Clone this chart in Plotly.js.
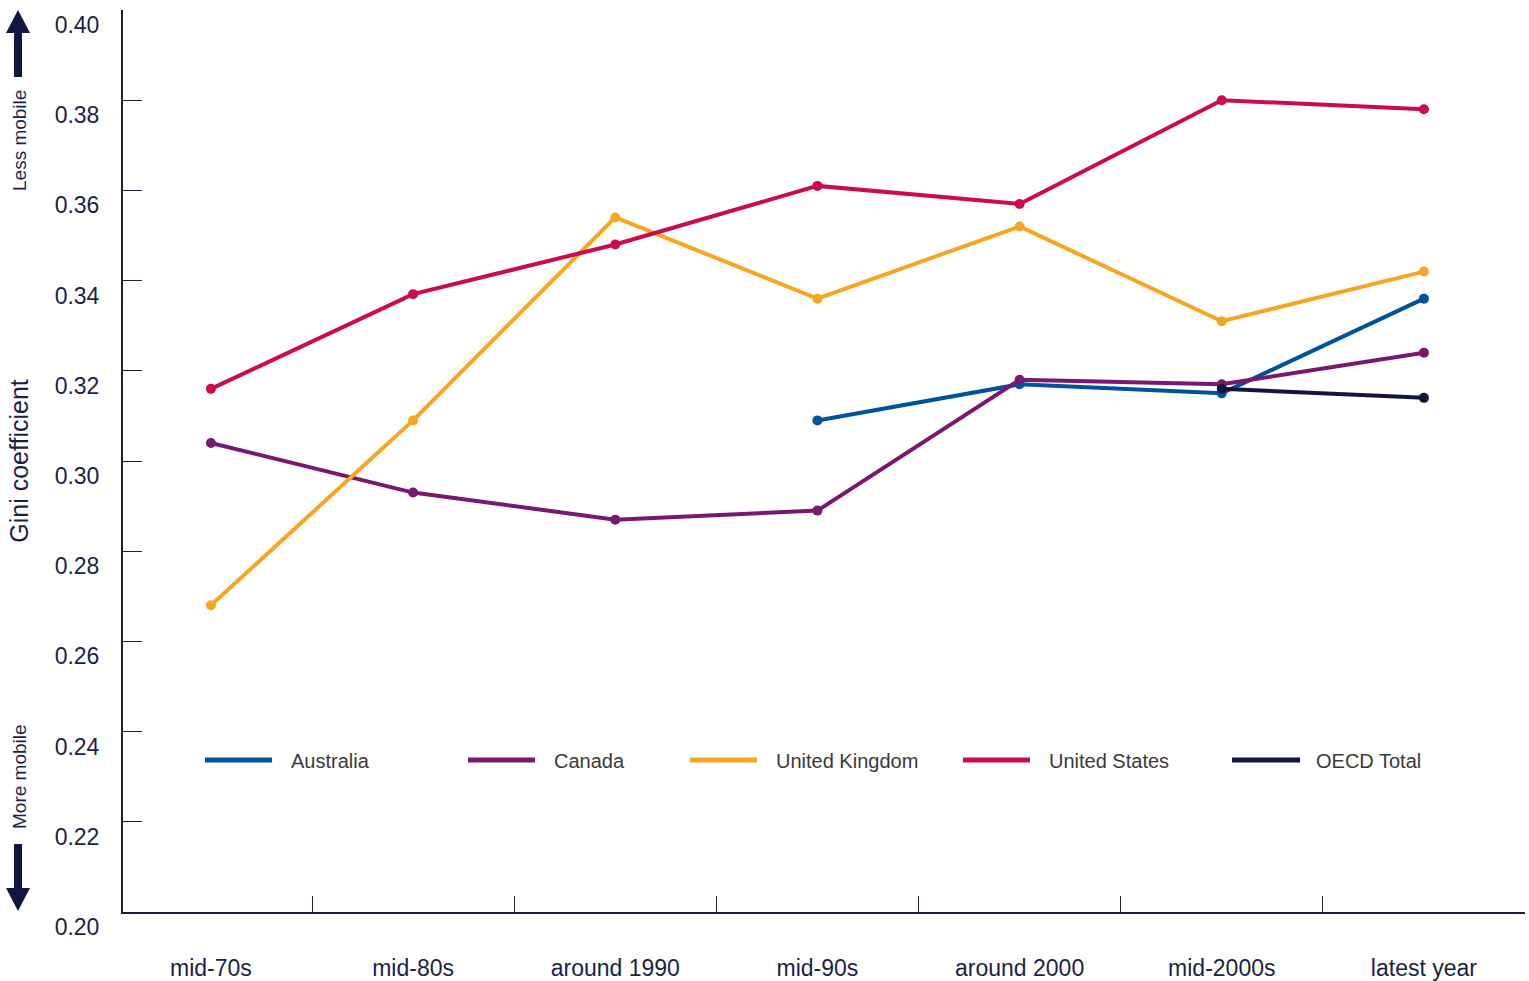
<!DOCTYPE html>
<html>
<head>
<meta charset="utf-8">
<script src="https://cdn.plot.ly/plotly-3.0.1.min.js"></script>
<style>html,body{margin:0;padding:0;background:#fff;}#chart{width:1529px;height:981px;}</style>
</head>
<body>
<div id="chart"></div>
<script>
var categories = ["mid-70s", "mid-80s", "around 1990", "mid-90s", "around 2000", "mid-2000s", "latest year"];
var australia = [null, null, null, 0.309, 0.317, 0.315, 0.336];
var canada = [0.304, 0.293, 0.287, 0.289, 0.318, 0.317, 0.324];
var unitedKingdom = [0.268, 0.309, 0.354, 0.336, 0.352, 0.331, 0.342];
var unitedStates = [0.316, 0.337, 0.348, 0.361, 0.357, 0.380, 0.378];
var oecdTotal = [null, null, null, null, null, 0.316, 0.314];
var seriesNames = ["Australia", "Canada", "United Kingdom", "United States", "OECD Total"];
var seriesValues = [australia, canada, unitedKingdom, unitedStates, oecdTotal];
var yTickVals = [0.20, 0.22, 0.24, 0.26, 0.28, 0.30, 0.32, 0.34, 0.36, 0.38, 0.40];
var yTickText = ["0.20", "0.22", "0.24", "0.26", "0.28", "0.30", "0.32", "0.34", "0.36", "0.38", "0.40"];

var colors = ["#00539b", "#781870", "#f6a623", "#cc0a4f", "#111540"];
var navy = "#1b1f48";
var FONT = "Liberation Sans, Arial, sans-serif";

var traces = seriesNames.map(function (name, i) {
  return {
    type: "scatter", mode: "lines+markers", name: name,
    x: categories, y: seriesValues[i],
    line: {color: colors[i], width: 4},
    marker: {color: colors[i], size: 10},
    connectgaps: false, showlegend: false
  };
});

// plot area geometry (pixels) for helper conversion
var L = 123, R = 1525, T = 10, B = 912;
function px(x) { return (x - L) / (R - L); }
function py(y) { return (B - y) / (B - T); }

var shapes = [];
var annotations = [];
var legendPos = [[205, 272, 290], [468, 535, 553], [690, 757, 775], [963, 1030, 1048], [1232, 1300, 1315]];
seriesNames.forEach(function (name, i) {
  var p = legendPos[i];
  shapes.push({type: "line", xref: "paper", yref: "paper", x0: px(p[0]), x1: px(p[1]), y0: py(760), y1: py(760),
    line: {color: colors[i], width: 5}});
  annotations.push({xref: "paper", yref: "paper", x: px(p[2] - 1), y: py(761), xanchor: "left", yanchor: "middle",
    text: name, showarrow: false, font: {family: FONT, size: 20, color: "#3a3a3a"}});
});

// arrows
shapes.push({type: "path", xref: "paper", yref: "paper", xsizemode: "pixel", ysizemode: "pixel",
  xanchor: px(18), yanchor: py(10), path: "M0,0 L12,-23 L4,-23 L4,-67 L-4,-67 L-4,-23 L-12,-23 Z",
  fillcolor: "#111540", line: {width: 0}});
shapes.push({type: "path", xref: "paper", yref: "paper", xsizemode: "pixel", ysizemode: "pixel",
  xanchor: px(18), yanchor: py(911), path: "M0,0 L12,23 L4,23 L4,67 L-4,67 L-4,23 L-12,23 Z",
  fillcolor: "#111540", line: {width: 0}});

annotations.push({xref: "paper", yref: "paper", x: px(19), y: py(140), xanchor: "center", yanchor: "middle",
  text: "Less mobile", textangle: -90, showarrow: false, font: {family: FONT, size: 19, color: navy}});
annotations.push({xref: "paper", yref: "paper", x: px(19), y: py(776), xanchor: "center", yanchor: "middle",
  text: "More mobile", textangle: -90, showarrow: false, font: {family: FONT, size: 19, color: navy}});

var layout = {
  width: 1529, height: 981,
  margin: {l: L, r: 1529 - R, t: T, b: 981 - B},
  paper_bgcolor: "#ffffff", plot_bgcolor: "#ffffff",
  showlegend: false,
  font: {family: FONT, color: navy},
  xaxis: {
    type: "category", range: [-0.435, 6.5], tickson: "boundaries",
    ticks: "inside", ticklen: 16, tickwidth: 1, tickcolor: navy,
    showline: true, linecolor: navy, linewidth: 2,
    showgrid: false, zeroline: false,
    ticklabelstandoff: 34,
    tickfont: {family: FONT, size: 23, color: navy}
  },
  yaxis: {
    range: [0.20, 0.40], tickmode: "array", tickvals: yTickVals, ticktext: yTickText,
    ticks: "inside", ticklen: 19, tickwidth: 1, tickcolor: navy,
    showline: true, linecolor: navy, linewidth: 2,
    showgrid: false, zeroline: false,
    ticklabelshift: 15, ticklabelstandoff: 17,
    tickfont: {family: FONT, size: 23, color: navy},
    title: {text: "Gini coefficient", standoff: 19, font: {family: FONT, size: 25, color: navy}}
  },
  shapes: shapes,
  annotations: annotations
};

Plotly.newPlot("chart", traces, layout, {displayModeBar: false, staticPlot: true});
</script>
</body>
</html>
